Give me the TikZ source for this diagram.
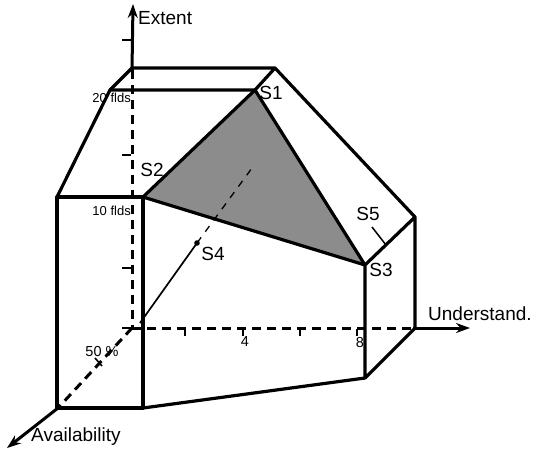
\documentclass[tikz,border=0pt]{standalone}
\usepackage{fontspec}
\setmainfont{Liberation Sans}
\usetikzlibrary{arrows.meta}
\begin{document}
\begin{tikzpicture}[x=1pt,y=-1pt,
  edge/.style={line width=3.2pt,line join=round,line cap=round},
  axisdash/.style={line width=3pt,dash pattern=on 9pt off 6pt},
  axisarrow/.style={line width=3pt,-{Stealth[length=14pt,width=10pt]}},
  lab/.style={font=\fontsize{19}{21}\selectfont,inner sep=0pt},
  small/.style={font=\fontsize{13}{14}\selectfont,inner sep=0pt},
  mid/.style={font=\fontsize{14.5}{16}\selectfont,inner sep=0pt},
  tick/.style={line width=1.6pt}]
\useasboundingbox (0,0) rectangle (535,451);
% coordinates
\coordinate (O) at (132,328);
\coordinate (EA) at (132,70);
\coordinate (ET) at (133,4);
\coordinate (UA) at (413,328);
\coordinate (UT) at (470,328);
\coordinate (AA) at (58,408);
\coordinate (AT) at (7,448);
\coordinate (A) at (57,197);
\coordinate (S2) at (143,197);
\coordinate (C) at (143,408);
\coordinate (D) at (57,408);
\coordinate (E) at (110,90);
\coordinate (S1) at (255,90);
\coordinate (F) at (132,68);
\coordinate (G) at (275,68);
\coordinate (H) at (415,217);
\coordinate (S3) at (365,265);
\coordinate (I) at (365,378);
\coordinate (J) at (415,328);
\coordinate (S4) at (197,243);
\coordinate (L0) at (140,323);
\coordinate (L1) at (252,168);
\coordinate (S5a) at (372,227);
\coordinate (S5b) at (386,245);
% shaded triangle
\fill[black!45] (S1) -- (S2) -- (S3) -- cycle;
% axes
\draw[axisdash] (EA) -- (O);
\draw[axisarrow] (EA) -- (ET);
\draw[axisdash] (O) -- (UA);
\draw[axisarrow] (UA) -- (UT);
\draw[axisdash] (O) -- (AA);
\draw[axisarrow] (AA) -- (AT);
% ticks
\foreach \y in {40,155,268,328} \draw[tick] (122,\y) -- (131,\y);
\foreach \x in {185,243,300,357} \draw[tick] (\x,329) -- (\x,336);
\draw[tick] (95,358) -- (102,366);
% box edges
\draw[edge] (A) -- (S2) -- (C) -- (D) -- cycle;
\draw[edge] (A) -- (E) -- (S1);
\draw[edge] (E) -- (F) -- (G) -- (S1);
\draw[edge] (G) -- (H) -- (J) -- (I) -- (S3) -- (H);
\draw[edge] (I) -- (C);
\draw[edge] (S1) -- (S2) -- (S3) -- cycle;
% S4 line
\draw[line width=1.7pt] (L0) -- (S4);
\draw[line width=1.3pt,dash pattern=on 7pt off 7pt] (S4) -- (L1);
\fill (S4) circle (2.8pt);
\draw[line width=1.5pt] (S5a) -- (S5b);
% labels
\node[lab,anchor=west] (lExt) at (138,18) {Extent};
\node[lab,anchor=west] (lUnd) at (428,314) {Understand.};
\node[lab,anchor=west] (lAv) at (31,437) {Availability};
\node[lab] (lS1) at (271,93) {S1};
\node[lab] (lS2) at (152,170) {S2};
\node[lab] (lS3) at (381,270) {S3};
\node[lab] (lS4) at (213,254) {S4};
\node[lab] (lS5) at (368,214) {S5};
\node[small,anchor=east] (l20) at (131,98) {20 flds};
\node[small,anchor=east] (l10) at (131,211) {10 flds};
\node[mid] (l50) at (102,351) {50 \%};
\node[mid] (l4) at (245,342) {4};
\node[mid] (l8) at (360,342) {8};
\end{tikzpicture}
\end{document}
